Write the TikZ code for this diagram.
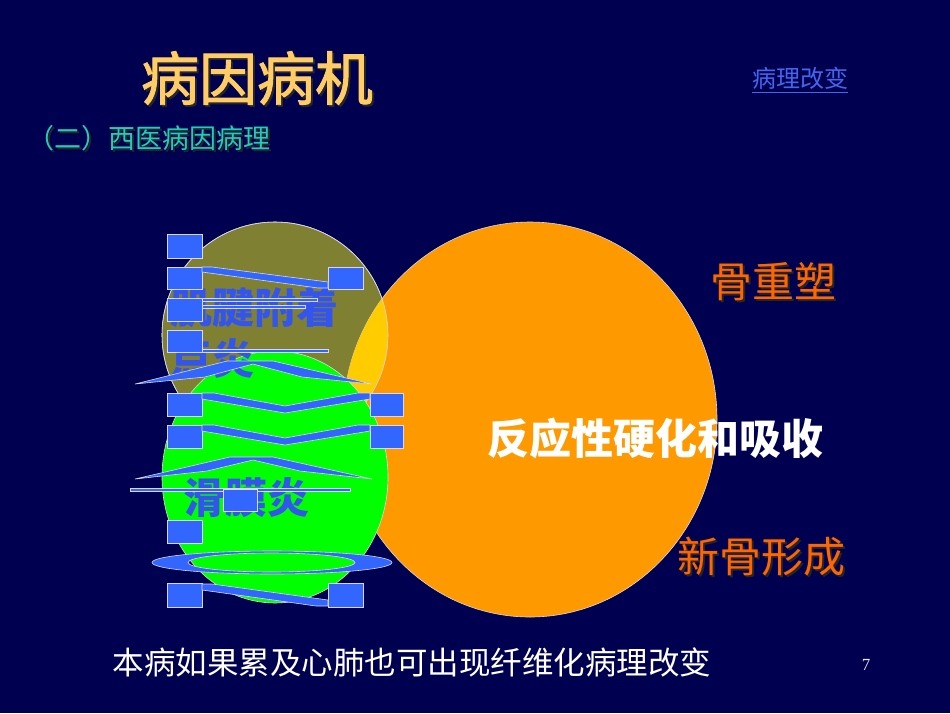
\documentclass[tikz,border=0pt]{standalone}
\usepackage{fontspec}
\setmainfont{Noto Sans CJK SC}
\newfontfamily\titlefont{Noto Sans CJK SC}[FakeBold=1.6]
\newfontfamily\pagenumfont{Liberation Serif}
\usepackage{xcolor}
\usetikzlibrary{positioning}

\definecolor{bgnavy}{HTML}{000050}
\definecolor{olivebg}{HTML}{808033}
\definecolor{lensyellow}{HTML}{FFCC00}
\definecolor{boneorange}{HTML}{FF9900}
\definecolor{synogreen}{HTML}{00FF00}
\definecolor{blkblue}{HTML}{3366FF}
\definecolor{txtblue}{HTML}{3355EE}
\definecolor{edgegray}{HTML}{D8D8E8}
\definecolor{titleorange}{HTML}{FFCC66}
\definecolor{subteal}{HTML}{22CCBB}
\definecolor{labelorange}{HTML}{FF6600}
\definecolor{linkblue}{HTML}{4466EE}

\begin{document}
\begin{tikzpicture}[x=1pt,y=-1pt,inner sep=0pt,
	blob/.style={draw=edgegray,line width=0.6pt},
	blk/.style={fill=blkblue,draw=edgegray,line width=0.6pt},
	ttl/.style={font=\titlefont\fontsize{58}{60}\selectfont,text=titleorange},
	sub/.style={font=\fontsize{27}{29}\selectfont,text=subteal},
	lbl/.style={font=\fontsize{42}{46}\selectfont,text=labelorange},
	enth/.style={font=\fontsize{42}{46}\selectfont\bfseries,text=txtblue},
	shd/.style={text=black!85}]
	\useasboundingbox (0,0) rectangle (950,713);
	\fill[bgnavy] (0,0) rectangle (950,713);

	\path[blob,fill=olivebg] (275,335) ellipse [x radius=113pt,y radius=113pt];
	\path[blob,fill=boneorange] (530,419.5) ellipse [x radius=187pt,y radius=197.5pt];
	\begin{scope}
		\clip (530,419.5) ellipse [x radius=187pt,y radius=197.5pt];
		\fill[lensyellow] (275,335) ellipse [x radius=113pt,y radius=113pt];
	\end{scope}
	\draw[blob] (275,335) ellipse [x radius=113pt,y radius=113pt];
	\path[blob,fill=synogreen] (275,477) ellipse [x radius=113pt,y radius=126pt];

	\node[ttl,shd,name=titleshd] at (259,80) {病因病机};
	\node[ttl,name=title] at (257,78) {病因病机};
	\node[sub,shd,name=subshd,anchor=west] at (29,140) {（二）西医病因病理};
	\node[sub,name=subtitle,anchor=west] at (27,138) {（二）西医病因病理};
	\node[font=\fontsize{24}{26}\selectfont,text=linkblue,name=link] at (800,78) {病理改变};
	\draw[linkblue,line width=0.8pt] ([yshift=-3pt]link.south west) -- ([yshift=-3pt]link.south east);

	\node[lbl,shd,name=remodelshd] at (775,284) {骨重塑};
	\node[lbl,name=remodel] at (773,282) {骨重塑};
	\node[lbl,shd,name=newboneshd] at (763,559) {新骨形成};
	\node[lbl,name=newbone] at (761,557) {新骨形成};
	\node[font=\fontsize{42}{46}\selectfont\bfseries,text=white,name=sclerosis] at (655,438) {反应性硬化和吸收};
	\node[font=\fontsize{31.5}{33}\selectfont,text=white,name=note] at (412,662) {本病如果累及心肺也可出现纤维化病理改变};
	\node[font=\pagenumfont\fontsize{17}{18}\selectfont,text=white!80!gray,name=pagenum] at (866,665) {7};

	\node[enth,name=enth1] at (254,308) {肌腱附着};
	\node[enth,anchor=north west,name=enth2] at ([yshift=-10pt]enth1.south west) {点炎};
	\node[enth,name=synov] at (246,498) {滑膜炎};

	\draw[blk] (167,234) rectangle (202,258);
	\draw[blk] (167,267) rectangle (202,289);
	\draw[blk] (328,267) rectangle (363,289);
	\draw[blk] (202,267) -- (212,267) -- (328,282) -- (328,288) -- (318,288) -- (202,272) -- cycle;
	\draw[blk] (167,298) rectangle (202,321);
	\draw[blk] (202,298) rectangle (317,301);
	\draw[blk] (202,305) rectangle (305,308);
	\draw[blk] (167,330) rectangle (202,352);
	\draw[blk] (202,349) rectangle (328,352.5);
	\draw[blk] (135,384) -- (227,361) -- (273,361) -- (372,384) -- (302,377) -- (253,364) -- (205,377) -- cycle;
	\draw[blk] (167,393) rectangle (202,416);
	\draw[blk] (370,393) rectangle (403,416);
	\draw[blk] (202,393) -- (214,393) -- (285,406) -- (358,393) -- (370,393) -- (370,399) -- (285,413) -- (202,399) -- cycle;
	\draw[blk] (167,425) rectangle (202,448);
	\draw[blk] (370,425) rectangle (403,448);
	\draw[blk] (202,425) -- (214,425) -- (285,438) -- (358,425) -- (370,425) -- (370,431) -- (285,445) -- (202,431) -- cycle;
	\draw[blk] (135,479) -- (230,457) -- (273,457) -- (372,479) -- (300,471) -- (253,460) -- (207,471) -- cycle;
	\draw[blk] (130,488) rectangle (350,491);
	\draw[blk] (223,489) rectangle (257,511);
	\draw[blk] (167,520) rectangle (202,543);
	\draw[blk,even odd rule] (272,562.5) ellipse [x radius=120pt,y radius=11.5pt] (271.5,562.5) ellipse [x radius=83.5pt,y radius=9.5pt];
	\draw[blk] (167,583) rectangle (202,607);
	\draw[blk] (328,583) rectangle (363,607);
	\draw[blk] (202,584) -- (212,584) -- (328,600) -- (328,606) -- (316,606) -- (202,590) -- cycle;
\end{tikzpicture}
\end{document}
